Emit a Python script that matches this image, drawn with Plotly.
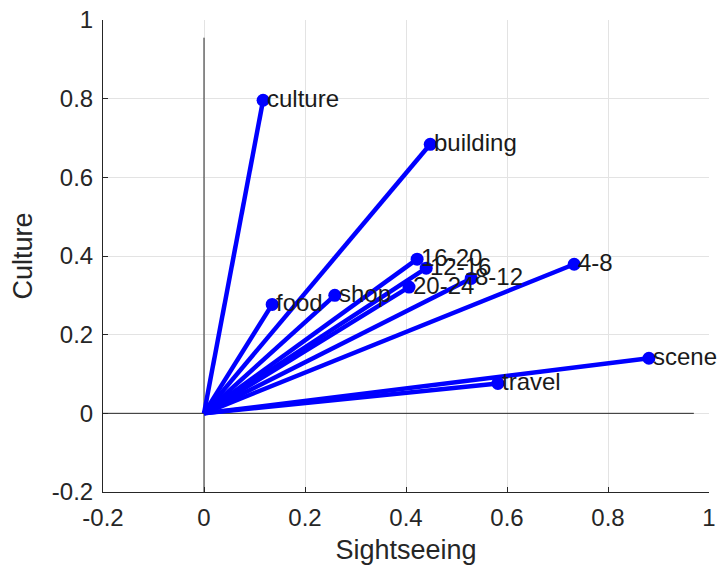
import plotly.graph_objects as go

labels = ["culture", "building", "16-20", "12-16", "8-12", "20-24", "4-8", "shop", "food", "scene", "travel"]
sightseeing = [0.117, 0.448, 0.422, 0.440, 0.529, 0.406, 0.733, 0.259, 0.135, 0.881, 0.582]
culture = [0.796, 0.684, 0.392, 0.369, 0.343, 0.321, 0.379, 0.300, 0.277, 0.140, 0.076]

xt = [-0.2, 0, 0.2, 0.4, 0.6, 0.8, 1]
yt = [-0.2, 0, 0.2, 0.4, 0.6, 0.8, 1]
xlab = ["-0.2", "0", "0.2", "0.4", "0.6", "0.8", "1"]
ylab = ["-0.2", "0", "0.2", "0.4", "0.6", "0.8", "1"]

font = "Liberation Sans, Arial, sans-serif"
fig = go.Figure()

# reference axes lines through origin
fig.add_trace(go.Scatter(x=[-0.2, 0.97], y=[0, 0], mode="lines",
                         line=dict(color="#262626", width=1), hoverinfo="skip", showlegend=False))
fig.add_trace(go.Scatter(x=[0, 0], y=[-0.2, 0.955], mode="lines",
                         line=dict(color="#262626", width=1), hoverinfo="skip", showlegend=False))

lx, ly = [], []
for a, b in zip(sightseeing, culture):
    lx += [0, a, None]
    ly += [0, b, None]
fig.add_trace(go.Scatter(x=lx, y=ly, mode="lines", line=dict(color="#0000ff", width=4.5),
                         showlegend=False))
fig.add_trace(go.Scatter(x=sightseeing, y=culture, mode="markers",
                         marker=dict(color="#0000ff", size=13), showlegend=False))

for lab, a, b in zip(labels, sightseeing, culture):
    fig.add_annotation(x=a, y=b, text=lab, showarrow=False, xanchor="left", yanchor="middle",
                       xshift=2, yshift=2, font=dict(family=font, size=24, color="#1a1a1a"))

axis_common = dict(showgrid=True, gridcolor="#e3e3e3", gridwidth=1, zeroline=False,
                   ticks="inside", ticklen=5, tickcolor="#262626", showline=True,
                   linecolor="#262626", linewidth=1, automargin=False,
                   tickfont=dict(family=font, size=24, color="#262626"))

fig.update_layout(
    width=722, height=571,
    margin=dict(l=103, r=13, t=20, b=79),
    paper_bgcolor="white", plot_bgcolor="white",
    xaxis=dict(range=[-0.2, 1], tickvals=xt, ticktext=xlab, ticklabelstandoff=4,
               title=dict(text="Sightseeing", font=dict(family=font, size=27, color="#262626"), standoff=10),
               **axis_common),
    yaxis=dict(range=[-0.2, 1], tickvals=yt, ticktext=ylab, ticklabelstandoff=4,
               title=dict(text="Culture", font=dict(family=font, size=27, color="#262626"), standoff=11),
               **axis_common),
)

fig.write_html("out.html")
